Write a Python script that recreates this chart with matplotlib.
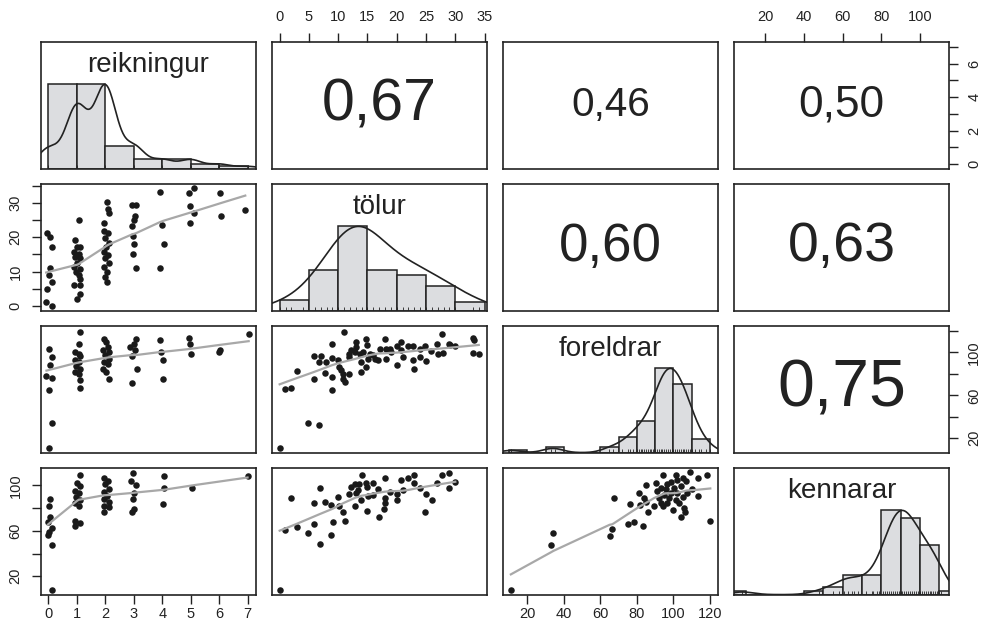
"""Scatterplot matrix (pairs.panels style) for reikningur / tölur / foreldrar / kennarar."""
import numpy as np
import matplotlib
matplotlib.use("Agg")
import matplotlib.pyplot as plt

plt.rcParams['font.family'] = ['Liberation Sans', 'DejaVu Sans']

NAMES = ["reikningur", "tölur", "foreldrar", "kennarar"]

# ---- marginal data (diagonal histograms, density, rug) ----
REIK_LEVELS = [0, 1, 2, 3, 4, 5, 6, 7]
REIK_COUNTS = [9, 28, 37, 10, 4, 4, 2, 1]

TOLUR_LEVELS = list(range(0, 35))
TOLUR_COUNTS = [1, 1, 1, 0, 1, 0, 2, 3, 3, 4, 3, 5, 6, 7, 6, 7, 3, 3, 3, 3,
                3, 3, 3, 2, 2, 3, 2, 2, 2, 1, 2, 0, 0, 2, 1]

FORELDRAR = [11, 33, 35, 65, 67, 72, 75, 76, 78, 78, 80,
             81, 82, 83, 84, 85, 86, 86, 87, 88, 89, 90, 90,
             91, 91, 92, 92, 92, 93, 93, 93, 94, 94, 94, 95, 95, 95, 95, 96, 96, 96, 96,
             97, 97, 97, 97, 98, 98, 98, 99, 99, 100, 100, 100, 100,
             101, 101, 101, 102, 102, 102, 103, 103, 103, 104, 104, 104, 105, 105, 105,
             106, 106, 107, 107, 108, 108, 109, 109, 110, 110, 110,
             112, 114, 115, 118, 120]

KENNARAR = [8, 48, 55, 58, 61, 63, 65, 66, 68, 72, 75, 76, 78, 79,
            81, 82, 83, 83, 84, 84, 85, 85, 86, 86, 87, 87, 87, 88, 88, 88, 89, 89, 89, 90, 90, 90,
            91, 91, 92, 92, 93, 93, 93, 94, 94, 95, 95, 96, 96, 97, 97, 98, 98, 99, 100, 100,
            101, 102, 103, 103, 104, 105, 106, 107, 107, 108, 109, 109, 110,
            111]

BREAKS = [list(range(0, 8)), list(range(0, 40, 5)),
          list(range(10, 130, 10)), list(range(0, 130, 10))]

# ---- scatter panels (lower triangle) ----
SC_RT_X = [-0.05, 0.04, 0.13, 0.07, 0.01, 0.13, -0.05, -0.08, 0.13,
           1.07, 0.95, 1.01, 1.12, 0.89, 1.07, 0.95, 1.12, 1.01, 0.91, 1.10, 0.98, 1.07, 1.12, 0.91, 1.12, 1.10, 1.01,
           2.06, 2.08, 2.13, 1.97, 1.94, 2.08, 2.00, 2.12, 2.04, 1.94, 2.08, 2.00, 2.12, 1.97, 2.06, 2.00, 2.06,
           2.94, 3.09, 3.06, 3.00, 2.94, 2.97, 3.02, 2.97, 3.07,
           3.91, 3.99, 4.05, 3.91,
           4.93, 5.11, 4.96, 5.11, 4.96,
           6.02, 6.07, 6.92]
SC_RT_Y = [21.1, 19.9, 17.2, 11.1, 9.0, 7.1, 4.9, 1.0, 0.0,
           25.1, 19.2, 17.2, 17.2, 15.7, 15.2, 14.3, 13.8, 12.6, 11.3, 10.8, 9.8, 9.0, 7.9, 6.1, 6.1, 3.4, 2.0,
           30.3, 28.3, 27.0, 24.1, 21.8, 21.1, 19.7, 18.2, 17.2, 15.7, 14.7, 13.8, 12.6, 11.3, 10.0, 8.4, 6.9,
           29.2, 29.2, 26.1, 25.1, 23.1, 20.2, 18.0, 15.0, 11.1,
           33.2, 23.6, 18.0, 11.1,
           32.9, 34.4, 29.0, 27.0, 24.1,
           32.9, 26.1, 28.0]

SC_RF_X = [0.01, 0.13, 0.04, -0.07, 0.11, 0.01, 0.11, 0.01,
           1.10, 1.07, 0.95, 1.07, 1.12, 0.95, 1.07, 0.98, 1.12, 0.95, 1.07, 1.10, 1.10,
           1.97, 2.04, 2.08, 1.92, 2.13, 2.00, 2.12, 1.94, 2.08, 1.92, 2.04, 2.12,
           3.09, 3.00, 2.88, 3.06, 2.94, 3.11, 2.94,
           3.93, 3.97, 4.03, 4.02,
           4.93, 4.96, 5.01,
           5.98, 6.02, 7.04]
SC_RF_Y = [103.6, 95.8, 88.6, 77.7, 76.4, 65.2, 34.0, 11.0,
           119.2, 108.3, 100.5, 98.9, 96.4, 93.3, 91.1, 87.1, 84.9, 81.7, 80.2, 74.6, 66.8,
           112.9, 109.8, 105.1, 102.6, 100.5, 97.3, 94.2, 91.1, 89.5, 84.9, 81.7, 75.5,
           112.9, 107.6, 105.1, 102.0, 96.4, 84.9, 71.8,
           111.4, 100.5, 93.3, 75.5,
           113.9, 108.3, 98.9,
           100.5, 102.0, 117.6]

SC_RK_X = [0.07, 0.01, 0.04, -0.02, 0.11, 0.01, -0.02, 0.11, 0.13,
           1.10, 1.01, 1.12, 0.95, 1.07, 0.98, 1.12, 0.95, 1.07, 0.95, 1.10, 0.92,
           1.94, 2.08, 2.00, 2.13, 1.94, 2.06, 1.97, 2.12, 1.97, 2.12, 1.94,
           2.97, 2.90, 3.09, 3.02, 2.97, 3.00, 2.94,
           4.05, 4.07, 4.02,
           5.05, 7.00]
SC_RK_Y = [88.1, 82.1, 72.6, 68.2, 62.2, 59.3, 56.3, 48.0, 8.1,
           108.9, 102.4, 99.4, 94.9, 93.5, 89.9, 87.5, 84.5, 82.1, 69.1, 66.7, 64.3,
           106.9, 103.9, 100.9, 97.0, 94.1, 91.1, 88.1, 85.2, 81.6, 81.0, 76.2,
           111.3, 103.9, 100.0, 93.5, 88.1, 79.2, 76.2,
           108.3, 97.9, 84.0,
           97.9, 108.3]

SC_TF_X = [0.0, 0.9, 1.9, 3.0, 4.9, 6.8, 5.9, 7.1, 6.8, 5.9, 7.9, 7.8, 8.9, 8.9, 8.9, 8.9, 9.9, 10.2, 10.5, 10.8,
           11.0, 10.8, 11.1, 11.9, 11.8, 12.2, 13.0, 12.8, 11.9, 13.1, 13.7, 13.9, 13.9, 14.2, 14.8, 14.9, 14.8,
           15.1, 15.4, 15.9, 16.2, 16.8, 17.1, 18.0, 18.1, 18.1, 18.8, 19.1, 20.0, 20.0, 20.8, 21.0, 20.8, 22.0,
           22.8, 22.8, 23.0, 23.9, 24.0, 24.8, 25.0, 25.9, 26.9, 27.1, 27.8, 27.9, 28.9, 29.1, 30.0, 33.0, 33.2,
           33.0, 34.0]
SC_TF_Y = [11.0, 65.5, 66.8, 82.7, 34.3, 32.8, 96.4, 96.4, 91.1, 74.9, 91.1, 81.1, 108.3, 95.2, 77.1, 65.2, 92.7,
           86.4, 83.3, 80.2, 119.2, 75.5, 72.4, 98.9, 95.8, 102.0, 109.8, 100.5, 80.2, 105.1, 98.9, 91.1, 81.7,
           100.5, 112.9, 106.7, 86.4, 94.2, 98.9, 97.3, 94.2, 93.3, 103.6, 112.9, 103.6, 94.2, 103.6, 100.5, 87.9,
           105.8, 109.8, 95.8, 102.0, 105.8, 105.8, 93.3, 84.9, 103.6, 95.8, 105.8, 92.0, 101.4, 107.6, 98.3,
           117.6, 99.5, 108.3, 106.7, 105.8, 113.9, 112.0, 99.5, 98.9]

SC_TK_X = [0.0, 0.9, 1.9, 2.9, 4.9, 5.9, 5.9, 6.9, 6.9, 7.8, 8.8, 8.8, 9.1, 9.9, 10.1, 10.9, 11.1, 11.9, 12.8,
           13.0, 12.8, 13.4, 14.1, 13.9, 14.8, 14.9, 15.1, 15.9, 16.8, 17.0, 18.0, 18.0, 18.0, 17.8, 18.9, 20.0,
           20.0, 20.8, 21.0, 22.0, 22.9, 23.0, 24.0, 25.0, 26.0, 24.8, 26.9, 27.8, 29.0, 29.0, 30.0, 12.2, 13.5,
           15.0, 16.0]
SC_TK_Y = [7.8, 60.7, 89.0, 63.7, 58.4, 84.5, 66.1, 97.9, 48.3, 85.1, 83.1, 56.3, 68.2, 89.9, 81.6, 76.2, 69.1,
           92.8, 100.9, 93.5, 82.1, 96.4, 108.9, 87.5, 102.4, 77.1, 91.1, 102.4, 97.0, 72.0, 106.9, 89.0, 84.5,
           79.2, 94.3, 92.8, 87.5, 104.8, 96.4, 106.9, 108.9, 101.8, 97.9, 92.8, 86.9, 76.2, 102.4, 108.9, 111.3,
           97.9, 103.0, 98.5, 101.5, 99.0, 92.0]

SC_FK_X = [11.0, 33.0, 34.3, 65.1, 66.4, 67.3, 75.0, 78.3, 76.2, 81.1, 83.5, 81.7, 84.8, 86.1, 83.9, 85.1, 89.4,
           90.3, 91.2, 92.1, 93.0, 93.4, 94.5, 94.5, 94.9, 95.8, 96.7, 96.7, 97.6, 98.5, 98.9, 100.0, 100.4,
           101.3, 101.3, 101.9, 102.2, 103.1, 104.0, 104.4, 105.0, 105.5, 105.9, 106.3, 106.8, 107.4, 109.2,
           110.4, 113.2, 113.2, 118.4, 120.2]
SC_FK_Y = [8.1, 47.9, 58.3, 55.6, 61.3, 89.0, 66.1, 68.2, 83.6, 93.5, 64.3, 83.0, 100.0, 76.2, 89.0, 85.1, 82.1,
           102.4, 95.0, 89.0, 97.9, 84.5, 108.9, 81.6, 92.0, 97.0, 100.9, 84.5, 89.0, 103.0, 93.5, 78.6, 97.9,
           108.9, 87.5, 104.8, 93.5, 84.5, 72.0, 99.4, 89.9, 106.9, 80.1, 76.2, 103.9, 93.5, 111.9, 97.0, 90.4,
           106.9, 108.9, 69.1]

# ---- correlations (upper triangle) ----
COR_ROW = [0, 0, 0, 1, 1, 2]
COR_COL = [1, 2, 3, 2, 3, 3]
COR_VAL = [0.67, 0.46, 0.50, 0.60, 0.63, 0.75]

# ---- axis ticks ----
TICKS = [list(range(0, 8)), list(range(0, 40, 5)), list(range(20, 140, 20)), list(range(20, 120, 20))]
LAB_BOTTOM_TOP = [["0", "1", "2", "3", "4", "5", "6", "7"],
                  ["0", "5", "10", "15", "20", "25", "30", "35"],
                  ["20", "40", "60", "80", "100", "120"],
                  ["20", "40", "60", "80", "100"]]
LAB_LEFT_RIGHT = [["0", "", "2", "", "4", "", "6", ""],
                  ["0", "", "10", "", "20", "", "30", ""],
                  ["20", "", "60", "", "100", ""],
                  ["20", "", "60", "", "100"]]

INK = "#222222"
HIST_FILL = "#dcdde0"
SMOOTH = "#a8a8a8"


def r_hist(x, breaks):
    # right-closed bins, first bin includes its lower edge (like R's hist)
    b = np.asarray(breaks, float)
    idx = np.searchsorted(b, x, side="left") - 1
    idx[x == b[0]] = 0
    return np.bincount(idx, minlength=len(b) - 1)[:len(b) - 1]


def bw_nrd(x):
    q1, q3 = np.percentile(x, [25, 75])
    s = min(np.std(x, ddof=1), (q3 - q1) / 1.34)
    return 1.06 * s * len(x) ** (-0.2)


def density(x, adjust=1.2):
    bw = adjust * bw_nrd(x)
    g = np.linspace(x.min() - 3 * bw, x.max() + 3 * bw, 512)
    d = np.exp(-0.5 * ((g[:, None] - x[None, :]) / bw) ** 2).sum(axis=1)
    return g, d / d.max()


def lowess(x, y, f=2 / 3, iters=3):
    order = np.argsort(x, kind="mergesort")
    x = np.asarray(x, float)[order]; y = np.asarray(y, float)[order]
    n = len(x)
    ns = max(2, min(n, int(f * n + 1e-7)))
    rw = np.ones(n); fit = np.zeros(n)
    for it in range(iters + 1):
        for i in range(n):
            d = np.abs(x - x[i])
            h = max(np.sort(d)[ns - 1], 1e-9)
            u = np.clip(d / h, 0, 1)
            w = (1 - u ** 3) ** 3 * rw
            sw = w.sum()
            if sw <= 0:
                fit[i] = y[i]; continue
            xm = (w * x).sum() / sw; ym = (w * y).sum() / sw
            sxx = (w * (x - xm) ** 2).sum() / sw
            if np.sqrt(sxx) > 0.001 * (x[-1] - x[0]):
                b = (w * (x - xm) * (y - ym)).sum() / (sxx * sw)
                fit[i] = ym + b * (x[i] - xm)
            else:
                fit[i] = ym
        if it == iters:
            break
        res = y - fit
        cmad = 6 * np.median(np.abs(res))
        if cmad < 1e-9:
            break
        u = np.clip(np.abs(res) / cmad, 0, 1)
        rw = (1 - u ** 2) ** 2
    return x, fit


def main():
    marg = [np.repeat(REIK_LEVELS, REIK_COUNTS).astype(float),
            np.repeat(TOLUR_LEVELS, TOLUR_COUNTS).astype(float),
            np.asarray(FORELDRAR, float),
            np.asarray(KENNARAR, float)]
    lims = []
    for v in marg:
        r = v.max() - v.min()
        lims.append((v.min() - 0.04 * r, v.max() + 0.04 * r))

    scatter = {(1, 0): (SC_RT_X, SC_RT_Y), (2, 0): (SC_RF_X, SC_RF_Y), (3, 0): (SC_RK_X, SC_RK_Y),
               (2, 1): (SC_TF_X, SC_TF_Y), (3, 1): (SC_TK_X, SC_TK_Y), (3, 2): (SC_FK_X, SC_FK_Y)}
    cors = {(r, c): v for r, c, v in zip(COR_ROW, COR_COL, COR_VAL)}

    W, H = 982, 625
    fig = plt.figure(figsize=(W / 100, H / 100), dpi=100)
    left0, pw, hgap = 40.5, 215.0, 16.2
    top0, ph, vgap = 42.3, 126.3, 15.7

    for i in range(4):
        for j in range(4):
            l = left0 + j * (pw + hgap)
            t = top0 + i * (ph + vgap)
            ax = fig.add_axes([l / W, 1 - (t + ph) / H, pw / W, ph / H])
            for sp in ax.spines.values():
                sp.set_linewidth(1.2); sp.set_color(INK)
            ax.tick_params(which="both", bottom=False, top=False, left=False, right=False,
                           labelbottom=False, labeltop=False, labelleft=False, labelright=False)

            if i == j:
                v = marg[i]
                cnt = r_hist(v, BREAKS[i])
                b = np.asarray(BREAKS[i], float)
                ax.bar(b[:-1], cnt / cnt.max(), width=np.diff(b), align="edge",
                       color=HIST_FILL, edgecolor=INK, linewidth=1.1, zorder=2)
                ax.vlines(np.unique(v), 0, 0.045, color=INK, linewidth=0.6, zorder=3)
                g, d = density(v)
                ax.plot(g, d, color=INK, linewidth=1.2, zorder=4)
                ax.text(0.5, 0.82, NAMES[i], transform=ax.transAxes, ha="center", va="center",
                        fontsize=20, color=INK)
            elif i > j:
                xs, ys = scatter[(i, j)]
                ax.scatter(xs, ys, s=22, color="#1a1a1a", linewidths=0, zorder=2)
                lx, ly = lowess(xs, ys)
                ax.plot(lx, ly, color=SMOOTH, linewidth=1.6, zorder=3)
            else:
                r = cors[(i, j)]
                ax.text(0.5, 0.5, f"{r:.2f}".replace(".", ","), transform=ax.transAxes,
                        ha="center", va="center", fontsize=63.5 * r, color=INK)

            tk = dict(length=6.5, width=1.0, color=INK, labelcolor=INK, labelsize=10.5)
            if i == 3 and j in (0, 2):
                ax.set_xticks(TICKS[j], LAB_BOTTOM_TOP[j])
                ax.tick_params(axis="x", bottom=True, labelbottom=True, pad=2.5, **tk)
            if i == 0 and j in (1, 3):
                ax.set_xticks(TICKS[j], LAB_BOTTOM_TOP[j])
                ax.tick_params(axis="x", top=True, labeltop=True, pad=6.5, **tk)
            if j == 0 and i in (1, 3):
                ax.set_yticks(TICKS[i], LAB_LEFT_RIGHT[i], rotation=90, va="center")
                ax.tick_params(axis="y", left=True, labelleft=True, pad=6.5, **tk)
            if j == 3 and i in (0, 2):
                ax.set_yticks(TICKS[i], LAB_LEFT_RIGHT[i], rotation=90, va="center")
                ax.tick_params(axis="y", right=True, labelright=True, pad=6.5, **tk)
            ax.set_xlim(lims[j])
            ax.set_ylim((0, 1.5) if i == j else lims[i])

    fig.savefig("out.png", dpi=100, facecolor="white")


if __name__ == "__main__":
    main()
